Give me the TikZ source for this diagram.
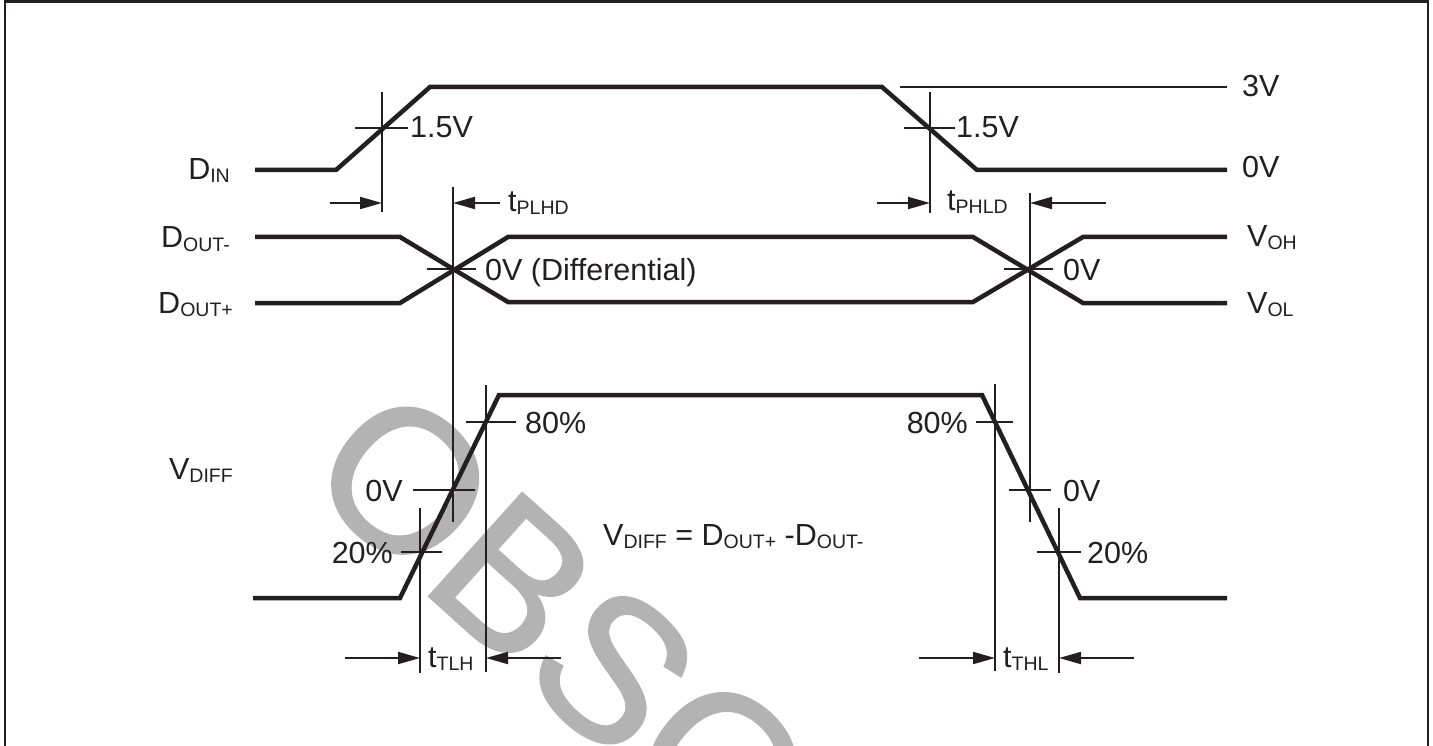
\documentclass[tikz,border=0pt]{standalone}
\usepackage{fontspec}
\setmainfont{Liberation Sans}
\newfontfamily\wmfont[FakeBold=1.2]{Liberation Sans}
\usetikzlibrary{arrows.meta}
\definecolor{ink}{HTML}{231F20}
\definecolor{wmgray}{HTML}{B3B3B3}
\newcommand{\lsub}[1]{\raisebox{-3pt}{\fontsize{19.5}{19.5}\selectfont #1}}
\begin{document}
\begin{tikzpicture}[x=1pt,y=-1pt,
  wave/.style={draw=ink,line width=4.5pt,line join=miter},
  thinln/.style={draw=ink,line width=1.8pt},
  arr/.style={draw=ink,line width=1.8pt,-{Triangle[length=22pt,width=12pt]}},
  lbl/.style={inner sep=0pt,text=ink,font=\fontsize{30.5}{30.5}\selectfont},
  lw/.style={lbl,anchor=base west},
  le/.style={lbl,anchor=base east}]
\useasboundingbox (0,0) rectangle (1433,746);
\fill[white] (0,0) rectangle (1433,746);
% watermark
\begin{scope}
\clip (0,0) rectangle (1433,746);
\node[inner sep=0pt,anchor=base west,rotate=-42,text=wmgray,font=\wmfont\fontsize{202}{202}\selectfont] (wm) at (300,480) {OBSOLETE};
\end{scope}
% frame
\draw[ink,line width=2.2pt] (5,750) -- (5,1.5) -- (1428,1.5) -- (1428,750);
% D_IN
\draw[wave] (255,170) -- (336,170) -- (430,87) -- (882,87) -- (977,170) -- (1227,170);
\draw[thinln] (900,87) -- (1227,87);
\draw[thinln] (382,92) -- (382,212);
\draw[thinln] (355,128) -- (408,128);
\draw[thinln] (930,92) -- (930,213);
\draw[thinln] (904,128) -- (955,128);
\coordinate (a1s) at (330,203); \coordinate (a1e) at (382,203);
\coordinate (a2s) at (500,203); \coordinate (a2e) at (453,203);
\coordinate (a3s) at (877,203); \coordinate (a3e) at (930,203);
\coordinate (a4s) at (1106,203); \coordinate (a4e) at (1030,203);
\draw[arr] (a1s) -- (a1e);
\draw[arr] (a2s) -- (a2e);
\draw[arr] (a3s) -- (a3e);
\draw[arr] (a4s) -- (a4e);
% D_OUT
\draw[wave] (255,237) -- (400,237) -- (508,302) -- (973,302) -- (1083,237) -- (1227,237);
\draw[wave] (255,303) -- (400,303) -- (508,237) -- (973,237) -- (1083,303) -- (1227,303);
\draw[thinln] (453,187) -- (453,522);
\draw[thinln] (427,269) -- (476,269);
\draw[thinln] (1030,193) -- (1030,522);
\draw[thinln] (1004,269) -- (1053,269);
% V_DIFF
\draw[wave] (253,598) -- (400,598) -- (499,395) -- (982,395) -- (1080,598) -- (1227,598);
\draw[thinln] (486,385) -- (486,672);
\draw[thinln] (466,422) -- (516,422);
\draw[thinln] (413,490) -- (475,490);
\draw[thinln] (420,508) -- (420,673);
\draw[thinln] (401,552) -- (442,552);
\draw[thinln] (995,384) -- (995,671);
\draw[thinln] (976,422) -- (1013,422);
\draw[thinln] (1009,490) -- (1051,490);
\draw[thinln] (1059,508) -- (1059,673);
\draw[thinln] (1037,552) -- (1081,552);
\coordinate (b1s) at (345,658); \coordinate (b1e) at (420,658);
\coordinate (b2s) at (561,658); \coordinate (b2e) at (486,658);
\coordinate (b3s) at (919,658); \coordinate (b3e) at (995,658);
\coordinate (b4s) at (1134,658); \coordinate (b4e) at (1059,658);
\draw[arr] (b1s) -- (b1e);
\draw[arr] (b2s) -- (b2e);
\draw[arr] (b3s) -- (b3e);
\draw[arr] (b4s) -- (b4e);
% labels
\node[le] (din) at (230,180) {D\lsub{IN}};
\node[le] (doutm) at (230,248) {D\lsub{OUT-}};
\node[le] (doutp) at (233,313) {D\lsub{OUT+}};
\node[le] (vdiff) at (233,479) {V\lsub{DIFF}};
\node[lw] (v3) at (1242,97) {3V};
\node[lw] (v0) at (1242,178) {0V};
\node[lw] (voh) at (1247,247) {V\lsub{OH}};
\node[lw] (vol) at (1247,313) {V\lsub{OL}};
\node[lw] (h1) at (410,138) {1.5V};
\node[lw] (h2) at (956,138) {1.5V};
\node[lw] (tplhd) at (508,212) {t\lsub{PLHD}};
\node[lw] (tphld) at (947,211) {t\lsub{PHLD}};
\node[lw] (zd) at (485,280) {0V (Differential)};
\node[lw] (zr) at (1063,280) {0V};
\node[lw] (p80a) at (525,433) {80\%};
\node[le] (z0a) at (403,501) {0V};
\node[le] (p20a) at (393,563) {20\%};
\node[lw] (ttlh) at (428,667) {t\lsub{TLH}};
\node[lw] (form) at (603,545) {V\lsub{DIFF} = D\lsub{OUT+} -D\lsub{OUT-}};
\node[le] (p80b) at (968,433) {80\%};
\node[lw] (z0b) at (1063,501) {0V};
\node[lw] (p20b) at (1087,563) {20\%};
\node[lw] (tthl) at (1003,667) {t\lsub{THL}};
\end{tikzpicture}
\end{document}
